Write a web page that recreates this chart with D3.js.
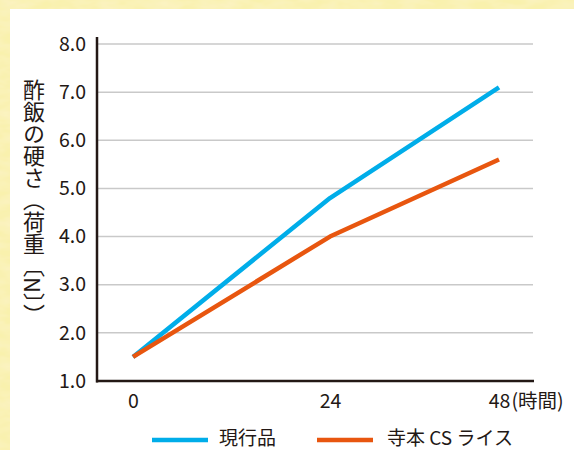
<!DOCTYPE html>
<html><head><meta charset="utf-8">
<script src="https://cdn.jsdelivr.net/npm/d3@7"></script>
<style>
html,body{margin:0;padding:0;background:#f9f1ad;}
svg{display:block;}
text{font-family:"Noto Sans CJK JP","Noto Sans",sans-serif;fill:#231815;}
</style></head>
<body>
<svg id="chart" width="574" height="450"></svg>
<script>
// Hours elapsed and sushi-rice hardness (load, N)
const hours = [0, 24, 48];
const currentProduct = [1.5, 4.8, 7.1];
const csRice = [1.5, 4.0, 5.6];
const yTicks = [1.0, 2.0, 3.0, 4.0, 5.0, 6.0, 7.0, 8.0];
const seriesNames = ["現行品", "寺本 CS ライス"];
const seriesColors = ["#00ade9", "#e8560f"];
const yTitle = "酢飯の硬さ（荷重〔N〕）";
const xUnit = "(時間)";

const svg = d3.select("#chart");

// textured paper backdrop
const defs = svg.append("defs");
const f = defs.append("filter").attr("id", "paper").attr("x", 0).attr("y", 0).attr("width", "100%").attr("height", "100%");
f.append("feTurbulence").attr("type", "fractalNoise").attr("baseFrequency", "0.04 0.1").attr("numOctaves", 3).attr("seed", 4).attr("result", "n");
f.append("feColorMatrix").attr("in", "n").attr("type", "matrix")
  .attr("values", "0 0 0 0 0.97  0 0 0 0 0.90  0 0 0 0 0.58  0 0 0 -1.2 0.85").attr("result", "c");
f.append("feComposite").attr("in", "c").attr("in2", "SourceGraphic").attr("operator", "over");
svg.append("rect").attr("width", 574).attr("height", 450).attr("fill", "#f9f1ad").attr("filter", "url(#paper)");

// white panel
svg.append("rect").attr("x", 10).attr("y", 9).attr("width", 564).attr("height", 441).attr("fill", "#fff");

const x = d3.scaleLinear().domain([0, 24, 48]).range([133, 330, 499]);
const y = d3.scaleLinear().domain([1, 8]).range([381, 44]);

// gridlines
svg.append("g").selectAll("line").data(yTicks.filter(d => d > 1)).join("line")
  .attr("x1", 97).attr("x2", 533)
  .attr("y1", d => y(d)).attr("y2", d => y(d))
  .attr("stroke", "#c9c9c9").attr("stroke-width", 1.5);

// y axis
const yAxis = d3.axisLeft(y).tickValues(yTicks).tickFormat(d3.format(".1f")).tickSize(0).tickPadding(11);
const gy = svg.append("g").attr("transform", "translate(97,0)").call(yAxis);
gy.select(".domain").remove();
gy.selectAll("text").attr("font-size", 19.5).attr("fill", "#231815").attr("font-family", null);

// x axis
const xAxis = d3.axisBottom(x).tickValues(hours).tickFormat(d3.format("d")).tickSize(0).tickPadding(13);
const gx = svg.append("g").attr("transform", "translate(0,381)").call(xAxis);
gx.select(".domain").remove();
gx.selectAll("text").attr("font-size", 19.5).attr("fill", "#231815").attr("font-family", null);
gx.selectAll(".tick").filter(d => d === 48).append("text")
  .attr("x", 12).attr("y", 13).attr("dy", "0.71em").attr("text-anchor", "start")
  .attr("font-size", 19.5).attr("fill", "#231815").text(xUnit);

// axis lines
svg.append("line").attr("x1", 97).attr("x2", 97).attr("y1", 37).attr("y2", 382.5)
  .attr("stroke", "#231815").attr("stroke-width", 2.5);
svg.append("line").attr("x1", 96).attr("x2", 534).attr("y1", 381).attr("y2", 381)
  .attr("stroke", "#231815").attr("stroke-width", 2.5);

// series lines
const line = d3.line().x((d, i) => x(hours[i])).y(d => y(d));
[currentProduct, csRice].forEach((s, k) => {
  svg.append("path").datum(s).attr("d", line).attr("fill", "none")
    .attr("stroke", seriesColors[k]).attr("stroke-width", 4.5).attr("stroke-linejoin", "round");
});

// y-axis title (vertical)
svg.append("text")
  .attr("x", 34).attr("y", 79)
  .attr("font-size", 22)
  .style("writing-mode", "vertical-rl")
  .style("text-orientation", "mixed")
  .text(yTitle);

// legend
const legendX = [152, 317];
const legendTextX = [219, 387];
seriesNames.forEach((n, k) => {
  svg.append("line").attr("x1", legendX[k]).attr("x2", legendX[k] + 56)
    .attr("y1", 440).attr("y2", 440).attr("stroke", seriesColors[k]).attr("stroke-width", 4.5);
  svg.append("text").attr("x", legendTextX[k]).attr("y", 438).attr("dy", "0.35em")
    .attr("font-size", 19).text(n);
});
</script>
</body></html>
